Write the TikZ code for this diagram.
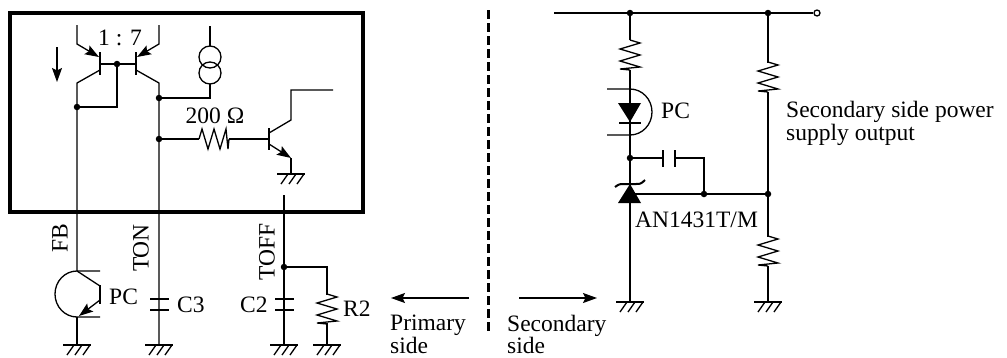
\documentclass[tikz,border=0pt]{standalone}
\usepackage{fontspec}
\setmainfont{Liberation Serif}
\usetikzlibrary{arrows.meta}
\tikzset{
 wire/.style={line width=1.3},
 bar/.style={line width=2.8},
 tip/.style={-{Stealth[length=14,width=10,inset=2.5]}},
 dot/.style={circle, fill=black, inner sep=0, minimum size=6.5},
 lbl/.style={inner sep=0, font=\fontsize{23.5}{27}\selectfont},
 pics/gnd/.style={code={
  \draw[wire, line width=2] (-14,0)--(14,0);
  \foreach \x in {-3,5,13} {\draw[wire] (\x,0)--++(-7,10);}
 }},
 pics/res/.style={code={
  \draw[wire] (0,-15)--(10,-12)--(-10,-6)--(10,0)--(-10,6)--(10,12)--(-10,14)--(0,15);
 }}
}
\begin{document}
\begin{tikzpicture}[x=1pt, y=-1pt]
\useasboundingbox (0,0) rectangle (1007,357);
\draw[line width=4.5] (10,13) rectangle (363,212);
\coordinate (fbtop) at (77,107);
\coordinate (ton) at (159,98);
\coordinate (tonr) at (159,139);
\coordinate (toff) at (284,267);
\coordinate (mid) at (117,64);
\coordinate (pcin) at (77,271);
\coordinate (pcout) at (77,317);
\coordinate (rail) at (630,13);
\coordinate (railr) at (768,13);
\coordinate (zen) at (630,158);
\coordinate (fbk) at (704,194);
\coordinate (div) at (768,194);
\node[draw, circle, wire, inner sep=0, minimum size=6] (out) at (817,13) {};

\draw[wire, tip] (77,25)--(77,44)--(99,57);
\draw[wire, tip] (159,25)--(159,44)--(137,57);
\draw[bar] (100,52)--(100,75);
\draw[bar] (136,52)--(136,75);
\draw[wire] (100,64)--(136,64);
\draw[wire] (100,70)--(77,83)--(fbtop)--(pcin);
\draw[wire] (136,70)--(159,83)--(ton)--(tonr)--(159,345);
\draw[wire] (fbtop)--(117,107)--(mid);
\draw[wire] (210,26)--(210,46);
\draw[wire] (210,57) circle (11);
\draw[wire] (210,73) circle (11);
\draw[wire] (ton)--(210,98)--(210,84);
\draw[wire] (tonr)--(199,139);
\draw[wire] (229,139)--(268,139);
\pic[rotate=90] at (214,139) {res};
\draw[bar] (269,128)--(269,150);
\draw[wire] (269,133)--(291,120)--(291,90)--(333,90);
\draw[wire, tip] (269,144)--(291,158);
\draw[wire] (291,158)--(291,174);
\pic at (291,174) {gnd};
\draw[wire] (284,195)--(toff)--(284,345);
\draw[wire] (toff)--(327,267)--(327,295);
\draw[wire] (327,323)--(327,345);
\pic at (327,309) {res};
\draw[wire, tip] (57,47)--(57,82);

\draw[wire] (100,271)--(pcin) arc (-90:-270:22 and 23)--(100,317);
\draw[wire] (pcin)--(100,286);
\draw[wire, tip] (100,300)--(79,316);
\draw[bar] (100,285)--(100,304);
\draw[wire] (pcout)--(77,345);
\foreach \x in {150,275} {\draw[bar] (\x,299)--++(19,0); \draw[bar] (\x,310)--++(19,0);}
\foreach \x/\y in {77/345,159/345,284/345,327/345,630/302,768/302} {\pic at (\x,\y) {gnd};}
\foreach \p in {mid,fbtop,ton,tonr,toff,rail,railr,zen,fbk,div} {\node[dot] at (\p) {};}

\draw[wire] (554,13)--(out);
\draw[wire] (rail)--(630,40);
\pic at (630,55) {res};
\draw[wire] (630,70)--(630,302);
\draw[wire] (607,89)--(630,89) arc (-90:90:22 and 23)--(607,135);
\fill (618,103)--(641,103)--(630,122)--cycle;
\draw[bar] (619,123)--(641,123);
\draw[wire] (zen)--(663,158);
\draw[bar] (663,150)--(663,167);
\draw[bar] (675,150)--(675,167);
\draw[wire] (675,158)--(704,158)--(fbk);
\draw[wire] (630,194)--(div);
\fill (630,184)--(618,203)--(641,203)--cycle;
\draw[line width=2] (615,187) .. controls (619,184) and (620,184) .. (624,184) -- (636,184) .. controls (640,184) and (641,184) .. (645,180);
\draw[wire] (railr)--(768,63);
\pic at (768,77) {res};
\draw[wire] (768,92)--(div)--(768,237);
\pic at (768,251) {res};
\draw[wire] (768,266)--(768,302);

\draw[line width=3, dash pattern=on 9 off 4] (488,10)--(488,332);
\draw[wire, tip] (469,298)--(391,298);
\draw[wire, tip] (519,298)--(597,298);

\node[lbl] (ratio) at (120,38) {1 : 7};
\node[lbl] (ohm) at (215,116) {200 Ω};
\node[lbl, rotate=90] (fb) at (60,238) {FB};
\node[lbl, rotate=90] (tonl) at (141,248) {TON};
\node[lbl, rotate=90] (toffl) at (267,252) {TOFF};
\node[lbl, anchor=west] (pcl) at (109,297) {PC};
\node[lbl, anchor=west] (c3) at (177,305) {C3};
\node[lbl, anchor=west] (c2) at (240,305) {C2};
\node[lbl, anchor=west] (r2) at (343,309) {R2};
\node[lbl, anchor=base west] (prim) at (390,330) {Primary};
\node[lbl, anchor=base west] (pside) at (390,353) {side};
\node[lbl, anchor=base west] (sec) at (507,331) {Secondary};
\node[lbl, anchor=base west] (sside) at (507,353) {side};
\node[lbl, anchor=west] (pcr) at (661,111) {PC};
\node[lbl, anchor=west] (an) at (635,220) {AN1431T/M};
\node[lbl, anchor=west] (outa) at (786,112) {Secondary side power};
\node[lbl, anchor=west] (outb) at (786,135) {supply output};
\end{tikzpicture}
\end{document}
